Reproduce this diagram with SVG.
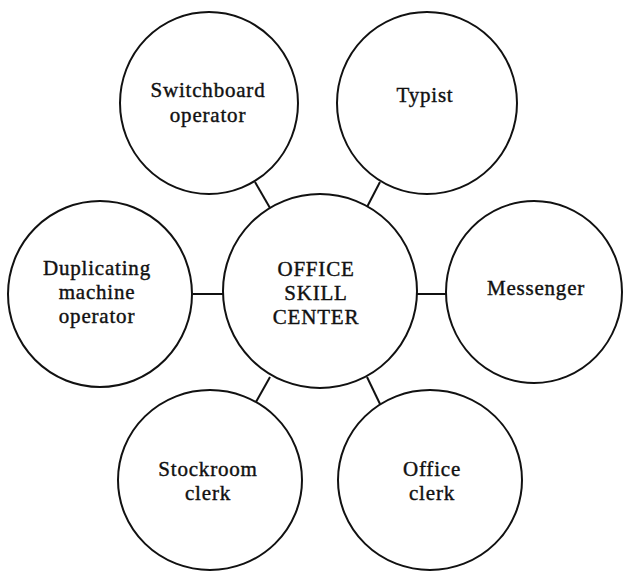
<svg xmlns="http://www.w3.org/2000/svg" width="623" height="572" viewBox="0 0 623 572">
<style>
.node ellipse{fill:#fff;stroke:#111;stroke-width:2}
.edges line{stroke:#111;stroke-width:2}
text{font-family:"Liberation Serif","Times New Roman",serif;font-size:21px;fill:#111;stroke:#111;stroke-width:0.4;text-anchor:middle;letter-spacing:0.8px}
</style>
<rect width="623" height="572" fill="#fff"/>
<g id="connectors" class="edges">
<line x1="255" y1="182" x2="270" y2="208"/>
<line x1="380" y1="182" x2="367" y2="207"/>
<line x1="193" y1="294" x2="223" y2="294"/>
<line x1="417" y1="294" x2="446" y2="294"/>
<line x1="270" y1="377" x2="256" y2="402"/>
<line x1="367" y1="377" x2="380" y2="404"/>
</g>
<g id="center" class="node">
<ellipse cx="320" cy="291" rx="97" ry="97"/>
<text x="316" y="276">OFFICE</text>
<text x="316" y="300">SKILL</text>
<text x="316" y="324">CENTER</text>
</g>
<g id="switchboard" class="node">
<ellipse cx="209" cy="103" rx="89" ry="91"/>
<text x="208" y="97">Switchboard</text>
<text x="208" y="122">operator</text>
</g>
<g id="typist" class="node">
<ellipse cx="427" cy="103" rx="90" ry="91"/>
<text x="425" y="102">Typist</text>
</g>
<g id="duplicating" class="node">
<ellipse cx="100" cy="294" rx="92" ry="93"/>
<text x="97" y="275">Duplicating</text>
<text x="97" y="299">machine</text>
<text x="97" y="323">operator</text>
</g>
<g id="messenger" class="node">
<ellipse cx="534" cy="292" rx="88" ry="91"/>
<text x="536" y="295">Messenger</text>
</g>
<g id="stockroom" class="node">
<ellipse cx="210" cy="480" rx="92" ry="90"/>
<text x="208" y="476">Stockroom</text>
<text x="208" y="500">clerk</text>
</g>
<g id="officeclerk" class="node">
<ellipse cx="430" cy="480" rx="92" ry="90"/>
<text x="432" y="476">Office</text>
<text x="432" y="500">clerk</text>
</g>
</svg>
